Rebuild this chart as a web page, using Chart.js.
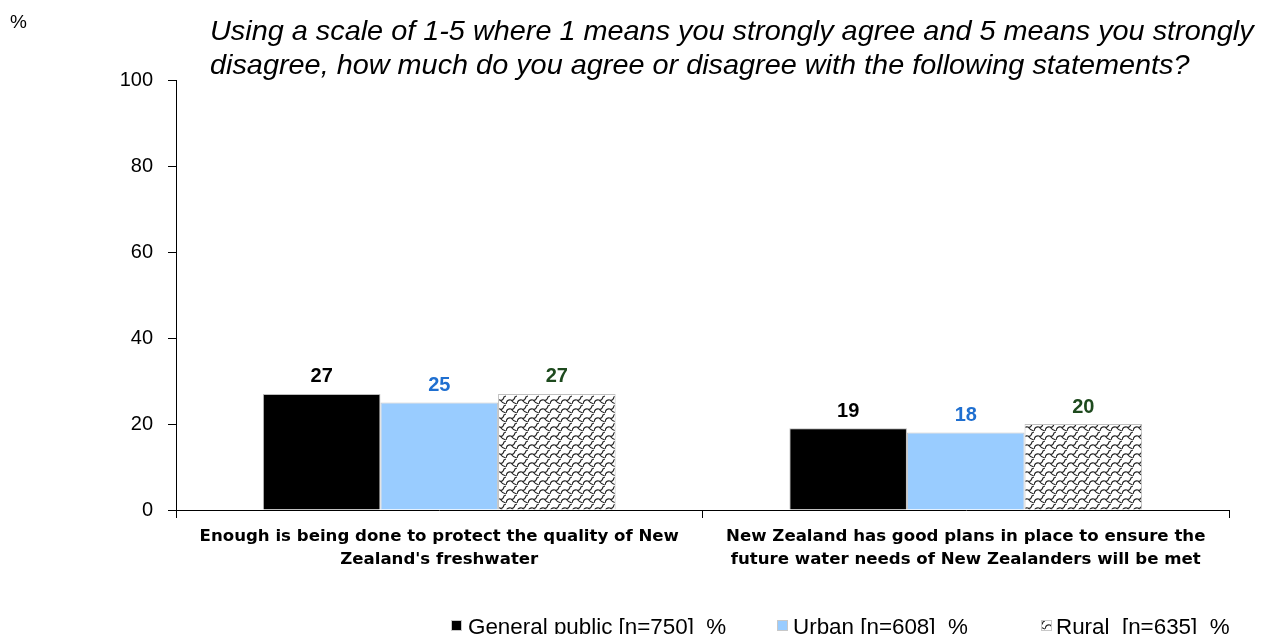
<!DOCTYPE html>
<html>
<head>
<meta charset="utf-8">
<script src="https://cdn.jsdelivr.net/npm/chart.js@4.4.1/dist/chart.umd.min.js"></script>
<style>
  html, body { margin: 0; padding: 0; background: #fff; }
  #wrap { width: 1266px; height: 634px; }
</style>
</head>
<body>
<div id="wrap"><canvas id="waterChart" width="1266" height="634"></canvas></div>
<script>
var categories = [
  ["Enough is being done to protect the quality of New", "Zealand's freshwater"],
  ["New Zealand has good plans in place to ensure the", "future water needs of New Zealanders will be met"]
];
var seriesNames = ["General public [n=750]  %", "Urban [n=608]  %", "Rural  [n=635]  %"];
var generalPublic = [27, 19];
var urban = [25, 18];
var rural = [27, 20];
var yTicks = [0, 20, 40, 60, 80, 100];
var titleLines = [
  "Using a scale of 1-5 where 1 means you strongly agree and 5 means you strongly",
  "disagree, how much do you agree or disagree with the following statements?"
];

// scale-like hatch used for the rural bars
function makePattern() {
  var c = document.createElement("canvas");
  c.width = 11; c.height = 9;
  var g = c.getContext("2d");
  g.fillStyle = "#fff";
  g.fillRect(0, 0, 11, 9);
  g.strokeStyle = "#222";
  g.lineWidth = 1.1;
  g.beginPath();
  g.moveTo(0, 8);
  g.quadraticCurveTo(1, 3, 5, 4);
  g.quadraticCurveTo(8, 5, 9, 1);
  g.lineTo(11, 0);
  g.moveTo(5, 4);
  g.quadraticCurveTo(7, 7, 11, 8);
  g.stroke();
  return g.createPattern(c, "repeat");
}
var ruralFill = makePattern();

var labelColors = ["#000000", "#1f6fd0", "#1e4a1e"];
var legendFills = ["#000000", "#99ccff", ruralFill];
var legendBoxX = [451, 777, 1041];
var legendTextX = [468, 793, 1056];

var extras = {
  id: "extras",
  afterDatasetsDraw: function (chart) {
    var ctx = chart.ctx;
    ctx.save();
    ctx.font = "bold 20px 'Liberation Sans', Arial, sans-serif";
    ctx.textAlign = "center";
    ctx.textBaseline = "bottom";
    chart.data.datasets.forEach(function (ds, i) {
      var meta = chart.getDatasetMeta(i);
      meta.data.forEach(function (bar, j) {
        ctx.fillStyle = labelColors[i];
        ctx.fillText(ds.data[j], bar.x, bar.y - 7);
      });
    });
    ctx.restore();
  },
  afterDraw: function (chart) {
    var ctx = chart.ctx;
    ctx.save();
    ctx.fillStyle = "#000";
    ctx.textBaseline = "alphabetic";
    ctx.textAlign = "left";
    ctx.save();
    ctx.translate(210, 0);
    ctx.scale(1.03, 1);
    ctx.font = "italic 28px 'Liberation Sans', Arial, sans-serif";
    ctx.fillText(titleLines[0], 0, 40);
    ctx.fillText(titleLines[1], 0, 74);
    ctx.restore();
    ctx.font = "19px 'Liberation Sans', Arial, sans-serif";
    ctx.fillText("%", 10, 28);
    ctx.font = "22.4px 'Liberation Sans', Arial, sans-serif";
    for (var i = 0; i < seriesNames.length; i++) {
      ctx.fillStyle = legendFills[i];
      ctx.fillRect(legendBoxX[i], 620, 11, 11);
      ctx.strokeStyle = "#c8c8c8";
      ctx.lineWidth = 1;
      ctx.strokeRect(legendBoxX[i] + 0.5, 620.5, 10, 10);
      ctx.fillStyle = "#000";
      ctx.fillText(seriesNames[i], legendTextX[i], 634);
    }
    ctx.restore();
  }
};

new Chart("waterChart", {
  type: "bar",
  data: {
    labels: categories,
    datasets: [{
      label: seriesNames[0],
      data: generalPublic,
      backgroundColor: "#000000",
      borderColor: "#bdbdbd",
      borderWidth: 1,
      categoryPercentage: 0.67,
      barPercentage: 1
    },
    {
      label: seriesNames[1],
      data: urban,
      backgroundColor: "#99ccff",
      borderColor: "#c8c8c8",
      borderWidth: 1,
      categoryPercentage: 0.67,
      barPercentage: 1
    },
    {
      label: seriesNames[2],
      data: rural,
      backgroundColor: ruralFill,
      borderColor: "#c0c0c0",
      borderWidth: 1,
      categoryPercentage: 0.67,
      barPercentage: 1
    }]
  },
  options: {
    responsive: false,
    animation: false,
    layout: {
      padding: { top: 80, right: 37, bottom: 0, left: 0 }
    },
    plugins: {
      legend: { display: false },
      tooltip: { enabled: false }
    },
    scales: {
      x: {
        grid: {
          display: true,
          offset: true,
          drawOnChartArea: false,
          tickLength: 8,
          color: "#000"
        },
        border: { color: "#000", width: 1 },
        ticks: {
          color: "#000",
          padding: 7,
          maxRotation: 0,
          font: { family: "'DejaVu Sans', Verdana, sans-serif", size: 16.6, weight: "bold", lineHeight: 1.4 }
        },
        afterFit: function (scale) { scale.height = 124; }
      },
      y: {
        min: 0,
        max: 100,
        afterBuildTicks: function (scale) {
          scale.ticks = yTicks.map(function (v) { return { value: v }; });
        },
        grid: {
          display: true,
          drawOnChartArea: false,
          tickLength: 8,
          color: "#000"
        },
        border: { color: "#000", width: 1 },
        ticks: {
          color: "#000",
          padding: 15,
          font: { family: "'Liberation Sans', Arial, sans-serif", size: 20 }
        },
        afterFit: function (scale) { scale.width = 176; }
      }
    }
  },
  plugins: [extras]
});
</script>
</body>
</html>
